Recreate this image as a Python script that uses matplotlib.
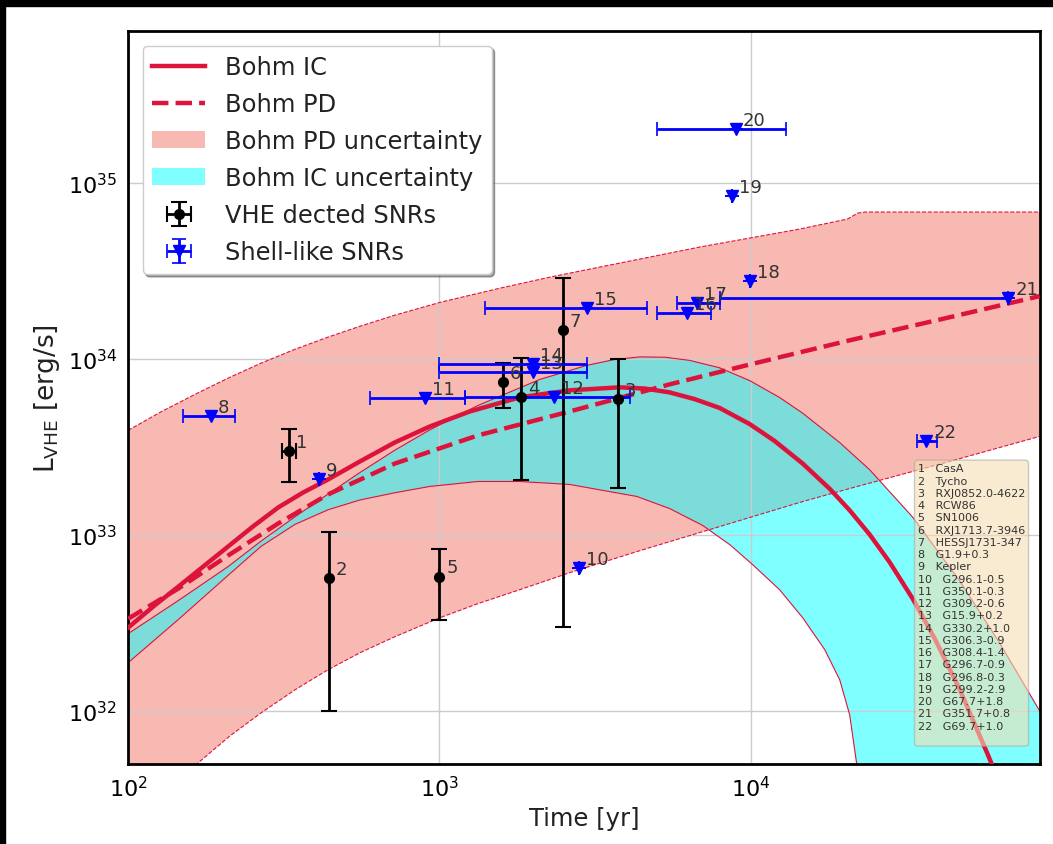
import numpy as np
import matplotlib
matplotlib.use('Agg')
import matplotlib.pyplot as plt
from matplotlib.patches import Patch, Rectangle

# model curves, as log10(t/yr) and log10(L/(erg/s))
ic_logt = [2.000, 2.080, 2.161, 2.241, 2.321, 2.401, 2.482, 2.562, 2.642, 2.745, 2.857,
           2.970, 3.098, 3.258, 3.419, 3.579, 3.660, 3.740, 3.820, 3.900, 3.997, 4.077,
           4.167, 4.254, 4.318, 4.382, 4.446, 4.520, 4.591, 4.671, 4.761, 4.799]
ic_logL = [32.473, 32.592, 32.706, 32.820, 32.934, 33.048, 33.156, 33.241, 33.315, 33.418,
           33.526, 33.617, 33.702, 33.782, 33.822, 33.839, 33.832, 33.810, 33.772, 33.722,
           33.630, 33.534, 33.406, 33.262, 33.140, 33.003, 32.846, 32.639, 32.412, 32.124,
           31.755, 31.592]

pd_logt = [2.000, 2.161, 2.321, 2.482, 2.642, 2.857, 3.124, 3.419, 3.740, 4.000, 4.318,
           4.639, 4.928]
pd_logL = [32.524, 32.695, 32.883, 33.065, 33.230, 33.406, 33.566, 33.702, 33.856, 33.970,
           34.106, 34.237, 34.357]

# Bohm PD uncertainty band
pd_up_logt = [2.000, 2.103, 2.215, 2.327, 2.427, 2.536, 2.642, 2.745, 2.857, 3.005, 3.194,
              3.355, 3.515, 3.676, 3.836, 3.997, 4.157, 4.311, 4.344, 4.369, 4.928]
pd_up_logL = [33.594, 33.697, 33.799, 33.896, 33.976, 34.055, 34.124, 34.186, 34.249, 34.323,
              34.402, 34.465, 34.522, 34.579, 34.636, 34.687, 34.738, 34.795, 34.829, 34.835,
              34.835]
pd_lo_logt = [2.000, 2.087, 2.225, 2.327, 2.427, 2.536, 2.642, 2.745, 2.857, 3.002, 3.124,
              3.258, 3.419, 3.644, 3.846, 4.167, 4.318, 4.639, 4.928]
pd_lo_logL = [31.000, 31.494, 31.705, 31.858, 31.989, 32.120, 32.234, 32.331, 32.422, 32.530,
              32.610, 32.689, 32.786, 32.911, 33.019, 33.190, 33.264, 33.418, 33.560]

# Bohm IC uncertainty band
ic_up_logt = [2.000, 2.161, 2.321, 2.427, 2.536, 2.642, 2.745, 2.857, 2.970, 3.124, 3.323,
              3.474, 3.560, 3.644, 3.724, 3.804, 3.900, 3.997, 4.093, 4.167, 4.286, 4.382,
              4.520, 4.671, 4.799, 4.928]
ic_up_logL = [32.439, 32.627, 32.820, 32.965, 33.103, 33.232, 33.355, 33.482, 33.598, 33.736,
              33.884, 33.964, 33.996, 34.012, 34.010, 33.992, 33.950, 33.877, 33.781, 33.692,
              33.525, 33.371, 33.102, 32.740, 32.388, 32.001]
ic_lo_logt = [2.000, 2.161, 2.321, 2.427, 2.536, 2.642, 2.745, 2.857, 2.970, 3.124, 3.258,
              3.419, 3.634, 3.740, 3.846, 3.933, 4.006, 4.093, 4.167, 4.238, 4.286, 4.318,
              4.340, 4.356, 4.928]
ic_lo_logL = [32.274, 32.519, 32.770, 32.935, 33.060, 33.143, 33.199, 33.240, 33.276, 33.304,
              33.304, 33.287, 33.219, 33.150, 33.054, 32.945, 32.832, 32.689, 32.530, 32.348,
              32.177, 31.978, 31.705, 31.494, 31.000]

# VHE detected SNRs
vhe_id = [1, 2, 3, 4, 5, 6, 7]
vhe_t = [330, 441, 3740, 1830, 1000, 1600, 2490]
vhe_terr = [17, 0, 0, 0, 0, 0, 0]
vhe_L = [3.0e33, 5.7e32, 5.9e33, 6.1e33, 5.8e32, 7.4e33, 1.46e34]
vhe_Lerr = [1.0e33, 4.7e32, 4.05e33, 4.05e33, 2.5e32, 2.1e33, 1.43e34]

# shell-like SNRs
sh_id = [8, 9, 10, 11, 12, 13, 14, 15, 16, 17, 18, 19, 20, 21, 22]
sh_t = [185, 410, 2806, 898, 2333, 1995, 2000, 2980, 6240, 6715, 9940, 8690, 8950, 67300, 36700]
sh_tlo = [150, 410, 2806, 598, 1210, 1000, 1000, 1400, 4990, 5780, 9940, 8690, 4990, 7945, 34100]
sh_thi = [220, 410, 2806, 1208, 4090, 2978, 2978, 4637, 7450, 7945, 9940, 8690, 12950, 67300, 39800]
sh_L = [4.72e33, 2.07e33, 6.5e32, 5.97e33, 6.06e33, 8.4e33, 9.33e33, 1.95e34, 1.82e34,
        2.08e34, 2.77e34, 8.44e34, 2.03e35, 2.21e34, 3.4e33]

names = ['CasA', 'Tycho', 'RXJ0852.0-4622', 'RCW86', 'SN1006', 'RXJ1713.7-3946',
         'HESSJ1731-347', 'G1.9+0.3', 'Kepler', 'G296.1-0.5', 'G350.1-0.3',
         'G309.2-0.6', 'G15.9+0.2', 'G330.2+1.0', 'G306.3-0.9', 'G308.4-1.4',
         'G296.7-0.9', 'G296.8-0.3', 'G299.2-2.9', 'G67.7+1.8', 'G351.7+0.8',
         'G69.7+1.0']

red = 'crimson'
pink = '#f57569'


def p10(a):
    return 10 ** np.asarray(a)


fig = plt.figure(figsize=(10.53, 8.45), dpi=100)
ax = fig.add_axes([0.1216, 0.0947, 0.8661, 0.8674])
ax.set_xscale('log')
ax.set_yscale('log')

# uncertainty bands
ax.fill(p10(pd_up_logt + pd_lo_logt[::-1]), p10(pd_up_logL + pd_lo_logL[::-1]),
        color=pink, alpha=0.5, lw=0, zorder=1)
ax.plot(p10(pd_up_logt), p10(pd_up_logL), '--', color=red, lw=0.8, zorder=2)
ax.plot(p10(pd_lo_logt), p10(pd_lo_logL), '--', color=red, lw=0.8, zorder=2)
ax.fill(p10(ic_up_logt + ic_lo_logt[::-1]), p10(ic_up_logL + ic_lo_logL[::-1]),
        color='cyan', alpha=0.5, lw=0, zorder=1.5)
ax.plot(p10(ic_up_logt), p10(ic_up_logL), '-', color=red, lw=0.8, zorder=2)
ax.plot(p10(ic_lo_logt), p10(ic_lo_logL), '-', color=red, lw=0.8, zorder=2)

l_ic, = ax.plot(p10(ic_logt), p10(ic_logL), '-', color=red, lw=3.2, zorder=3)
l_pd, = ax.plot(p10(pd_logt), p10(pd_logL), '--', color=red, lw=3.2, zorder=3)

eb_v = ax.errorbar(vhe_t, vhe_L, xerr=vhe_terr, yerr=vhe_Lerr, fmt='o', color='k',
                   ms=7, elinewidth=2, capsize=6, capthick=1.5, zorder=5)

sh_xerr = [[t - lo for t, lo in zip(sh_t, sh_tlo)], [hi - t for t, hi in zip(sh_t, sh_thi)]]
eb_s = ax.errorbar(sh_t, sh_L, xerr=sh_xerr, yerr=0, fmt='v', color='b', ecolor='b',
                   ms=8, elinewidth=2, capsize=5, capthick=1.2, zorder=5)
for cap in eb_s[1]:
    cap.set_color('k')

for i, t, L in zip(vhe_id + sh_id, vhe_t + sh_t, vhe_L + sh_L):
    ax.annotate(str(i), (t, L), xytext=(5, 3), textcoords='offset points',
                fontsize=13, color='#333333', zorder=6)

ax.set_xlim(100, 8.5e4)
ax.set_ylim(5e31, 7.3e35)
ax.grid(True, color='#cccccc', lw=1)
ax.tick_params(which='both', length=0, labelsize=16, pad=8)
ax.minorticks_off()
for s in ax.spines.values():
    s.set_linewidth(2)
    s.set_color('k')
ax.set_xlabel('Time [yr]', fontsize=17.5, color='#222222')
ax.set_ylabel(r'L$_{\rm VHE}$ [erg/s]', fontsize=19, color='#222222', labelpad=4)

handles = [l_ic, l_pd,
           Patch(facecolor=pink, alpha=0.5), Patch(facecolor='cyan', alpha=0.5),
           eb_v, eb_s]
labels = ['Bohm IC', 'Bohm PD', 'Bohm PD uncertainty', 'Bohm IC uncertainty',
          'VHE dected SNRs', 'Shell-like SNRs']
leg = ax.legend(handles, labels, loc='upper left', fontsize=17.4, shadow=True, fancybox=True,
                framealpha=1, borderaxespad=0.6, handlelength=2.2, labelspacing=0.54)
for t in leg.get_texts():
    t.set_color('#222222')

txt = '\n'.join(f'{i + 1}   {n}' for i, n in enumerate(names)) + '\n'
ax.text(0.866, 0.41, txt, transform=ax.transAxes, fontsize=8, va='top', ha='left',
        color='#333333', linespacing=1.28, zorder=7,
        bbox=dict(boxstyle='round', facecolor='wheat', alpha=0.6, edgecolor='#aaaaaa'))

# black border of the original screenshot
fig.patches.append(Rectangle((0, 1 - 7 / 845), 1, 7 / 845, transform=fig.transFigure, color='k'))
fig.patches.append(Rectangle((0, 0), 5 / 1053, 1, transform=fig.transFigure, color='k'))

fig.savefig('out.png', dpi=100)
